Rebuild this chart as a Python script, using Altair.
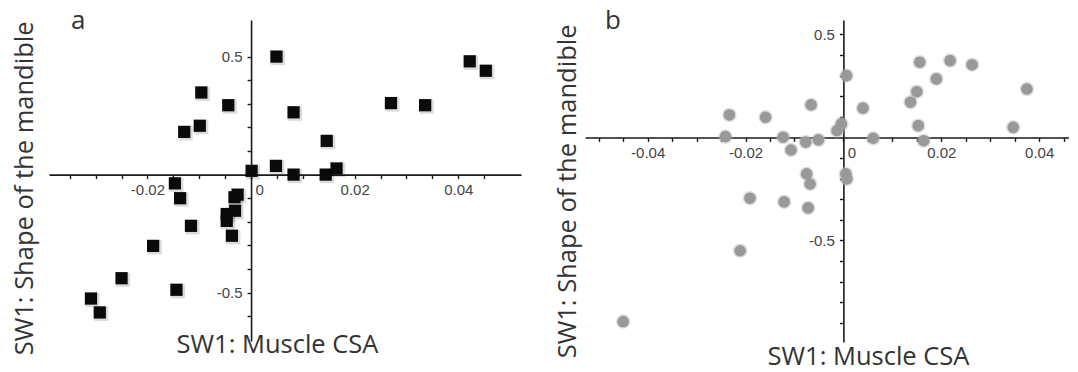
import json
import altair as alt
import pandas as pd

# ---------------- data ----------------
# panel a : black squares
a_x = [0.0049, -0.0096, -0.0044, 0.0082, -0.0099, -0.0129, 0.0001, 0.0048, 0.0082,
       -0.0147, -0.0137, -0.0026, -0.0032, 0.0146, 0.0144, 0.0165, 0.0270, 0.0336,
       0.0422, 0.0453, -0.0031, -0.0047, -0.0047, -0.0037, -0.0116, -0.0189,
       -0.0250, -0.0144, -0.0309, -0.0292]
a_y = [0.500, 0.348, 0.294, 0.264, 0.207, 0.181, 0.016, 0.037, 0.000,
       -0.037, -0.100, -0.085, -0.096, 0.143, 0.000, 0.026, 0.303, 0.294,
       0.480, 0.440, -0.153, -0.167, -0.196, -0.259, -0.217, -0.302,
       -0.439, -0.488, -0.525, -0.584]

# panel b : grey circles
b_x = [0.00065, -0.0066, -0.0233, -0.0159, -0.0004, -0.0013, -0.0241, -0.0123,
       -0.0107, -0.0077, -0.0051, -0.0075, -0.0068, 0.0005, 0.0007, -0.0191,
       -0.0121, -0.0072, -0.0211, -0.0450, 0.0040, 0.0061, 0.0156, 0.0218,
       0.0263, 0.0190, 0.0150, 0.0137, 0.0153, 0.0164, 0.0347, 0.0375]
b_y = [0.300, 0.158, 0.109, 0.098, 0.066, 0.033, 0.004, 0.001,
       -0.061, -0.023, -0.012, -0.177, -0.226, -0.177, -0.201, -0.295,
       -0.313, -0.342, -0.550, -0.894, 0.142, -0.004, 0.365, 0.373,
       0.353, 0.284, 0.222, 0.171, 0.057, -0.016, 0.049, 0.235]

# axis ticks and labels
a_xticks = [-0.035, -0.03, -0.025, -0.02, -0.015, -0.01, -0.005, 0, 0.005, 0.01,
            0.015, 0.02, 0.025, 0.03, 0.035, 0.04, 0.045]
a_xlabels = [-0.02, 0, 0.02, 0.04]
a_yticks = [-0.6, -0.5, -0.4, -0.3, -0.2, -0.1, 0.1, 0.2, 0.3, 0.4, 0.5]
a_ylabels = [-0.5, 0.5]

b_xticks = [-0.05, -0.045, -0.04, -0.035, -0.03, -0.025, -0.02, -0.015, -0.01,
            -0.005, 0, 0.005, 0.01, 0.015, 0.02, 0.025, 0.03, 0.035, 0.04, 0.045]
b_xlabels = [-0.04, -0.02, 0, 0.02, 0.04]
b_yticks = [-0.9, -0.8, -0.7, -0.6, -0.5, -0.4, -0.3, -0.2, -0.1,
            0.1, 0.2, 0.3, 0.4, 0.5]
b_ylabels = [-0.5, 0.5]

x_title = "SW1: Muscle CSA"
y_title = "SW1: Shape of the mandible"
panel_names = ["a", "b"]

TITLE_FONT = "Open Sans"
LABEL_FONT = "Liberation Sans"
TXT = "#333333"
TFS = 25.5


def label_expr(vals):
    return f"indexof({json.dumps(vals)}, datum.value) >= 0 ? toString(datum.value) : ''"


def panel(xs, ys, kind, xdom, ydom, w, h, xticks, xlabels, yticks, ylabels,
          name, name_dx, name_dy, xt_x, xt_y, yt_x, yt_top):
    df = pd.DataFrame({"x": xs, "y": ys})
    x0 = w * (0 - xdom[0]) / (xdom[1] - xdom[0])
    y0 = h * ydom[1] / (ydom[1] - ydom[0])

    xaxis = alt.Axis(
        orient="bottom", offset=y0 - h, values=xticks, labelExpr=label_expr(xlabels),
        grid=False, domainColor="#1a1a1a", domainWidth=1.6, tickColor="#1a1a1a",
        tickWidth=1.4, tickSize=4, labelFont=LABEL_FONT, labelFontSize=15,
        labelColor="#444", labelPadding=4, labelFlush=False, labelOverlap=False,
        labelOffset={"condition": {"test": "datum.value === 0", "value": 8}, "value": 0},
        title=x_title, titleFont=TITLE_FONT, titleFontSize=TFS, titleFontWeight="normal",
        titleColor=TXT, titleX=xt_x, titleY=xt_y - y0, titleAlign="center",
        titleBaseline="alphabetic",
    )
    yaxis = alt.Axis(
        orient="left", offset=-x0, values=yticks, labelExpr=label_expr(ylabels),
        grid=False, domainColor="#1a1a1a", domainWidth=1.6, tickColor="#1a1a1a",
        tickWidth=1.4, tickSize=4, labelFont=LABEL_FONT, labelFontSize=15,
        labelColor="#444", labelPadding=5, labelFlush=False, labelOverlap=False,
        title=y_title, titleFont=TITLE_FONT, titleFontSize=TFS, titleFontWeight="normal",
        titleColor=TXT, titleX=yt_x - x0, titleY=yt_top, titleAngle=270,
        titleAlign="right", titleBaseline="alphabetic",
    )
    X = alt.X("x:Q", scale=alt.Scale(domain=xdom, nice=False, zero=False), axis=xaxis)
    Y = alt.Y("y:Q", scale=alt.Scale(domain=ydom, nice=False, zero=False), axis=yaxis)
    base = alt.Chart(df)
    if kind == "square":
        shadow = base.mark_square(size=200, color="#000", opacity=0.14,
                                  xOffset=1.5, yOffset=1.5).encode(x=X, y=Y)
        pts = base.mark_square(size=150, color="#0a0a0a", opacity=1).encode(x=X, y=Y)
    else:
        shadow = base.mark_circle(size=210, color="#b5b5b5", opacity=0.45).encode(x=X, y=Y)
        pts = base.mark_circle(size=135, color="#999999", opacity=1).encode(x=X, y=Y)
    return alt.layer(shadow, pts).properties(
        width=w, height=h,
        title=alt.TitleParams(name, anchor="start", frame="group", offset=0,
                              baseline="alphabetic", dx=name_dx, dy=name_dy,
                              font=TITLE_FONT, fontSize=26, fontWeight="normal",
                              color=TXT),
    )


pa = panel(a_x, a_y, "square", [-0.039, 0.0521], [-0.705, 0.655], 472, 321,
           a_xticks, a_xlabels, a_yticks, a_ylabels, panel_names[0], 22, 35,
           228, 332, -17, 1)
pb = panel(b_x, b_y, "circle", [-0.0528, 0.0461], [-0.993, 0.570], 484, 322,
           b_xticks, b_xlabels, b_yticks, b_ylabels, panel_names[1], 20, 35,
           283, 344, -10, 4)

chart = alt.hconcat(pa, pb, spacing=34).properties(
    padding={"left": 4, "top": 0, "right": 0, "bottom": 0}
).configure(background="white").configure_view(strokeWidth=0, strokeOpacity=0)

chart.save("out.html", embed_options={"renderer": "svg", "actions": False})
